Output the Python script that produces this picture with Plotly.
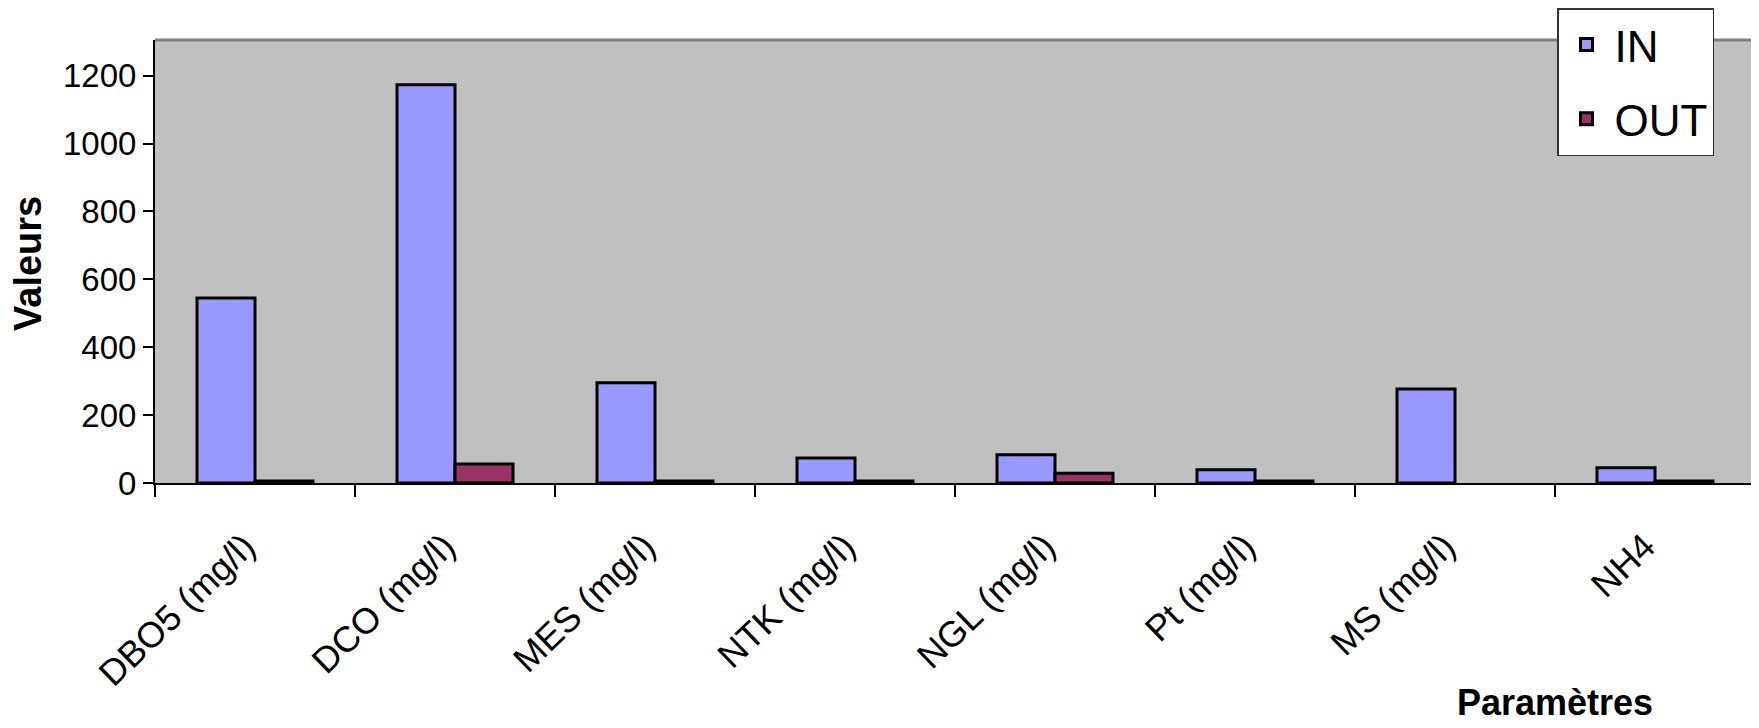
import plotly.graph_objects as go

categories = ["DBO5 (mg/l)", "DCO (mg/l)", "MES (mg/l)", "NTK (mg/l)",
              "NGL (mg/l)", "Pt (mg/l)", "MS (mg/l)", "NH4"]
in_values = [545, 1173, 295, 74, 83, 39, 277, 45]
out_values = [6, 56, 6, 6, 29, 6, None, 6]
y_ticks = [0, 200, 400, 600, 800, 1000, 1200]

FONT = "Liberation Sans, Arial, sans-serif"

W, H = 1759, 728
OFF = 8                      # page offset of the figure (body margin)
PX0, PY0 = 155, 40           # plot area top-left on the page
PW, PH = 1600, 443           # plot area size
L, T = PX0 - OFF, PY0 - OFF
R = W - L - PW
B = H - T - PH


def px(xp):
    return (xp - PX0) / PW


def py(yp):
    return (PY0 + PH - yp) / PH


fig = go.Figure()
fig.add_trace(go.Bar(name="IN", x=categories, y=in_values, legendgroup="in",
                     marker=dict(color="#9999FF", line=dict(color="#000000", width=3))))
fig.add_trace(go.Bar(name="OUT", x=categories, y=out_values, legendgroup="out",
                     marker=dict(color="#993366", line=dict(color="#000000", width=3))))

fig.update_layout(
    width=W, height=H,
    margin=dict(l=L, r=R, t=T, b=B, pad=0, autoexpand=False),
    paper_bgcolor="#FFFFFF",
    plot_bgcolor="#C0C0C0",
    barmode="group",
    bargap=0.42,
    bargroupgap=0,
    showlegend=True,
    legend=dict(
        x=px(1557), y=py(OFF),
        xanchor="left", yanchor="top",
        bgcolor="#FFFFFF", bordercolor="#333333", borderwidth=1.5,
        font=dict(family=FONT, size=44, color="#000000"),
        tracegroupgap=14,
        itemwidth=46,
    ),
    xaxis=dict(
        type="category",
        showline=True, linecolor="#000000", linewidth=2,
        ticks="outside", tickson="boundaries", ticklen=12,
        tickcolor="#000000", tickwidth=1.5,
        tickangle=-44,
        ticklabelstandoff=26,
        ticklabelshift=-10,
        tickfont=dict(family=FONT, size=36, color="#000000"),
        showgrid=False, zeroline=False,
    ),
    yaxis=dict(
        range=[0, 1305],
        tickvals=y_ticks,
        showline=True, linecolor="#000000", linewidth=2,
        ticks="outside", ticklen=10, tickcolor="#000000", tickwidth=1.5,
        tickfont=dict(family=FONT, size=33, color="#000000"),
        showgrid=False, zeroline=False,
    ),
    shapes=[
        dict(type="line", xref="paper", yref="paper", x0=0, x1=1, y0=1, y1=1,
             line=dict(color="#808080", width=3)),
        dict(type="line", xref="paper", yref="paper", x0=1, x1=1, y0=0, y1=1,
             line=dict(color="#808080", width=3)),
    ],
    annotations=[
        dict(text="<b>Valeurs</b>", xref="paper", yref="paper",
             x=px(28), y=py(264), textangle=-90,
             showarrow=False, xanchor="center", yanchor="middle",
             font=dict(family=FONT, size=38, color="#000000")),
        dict(text="<b>Paramètres</b>", xref="paper", yref="paper",
             x=px(1555), y=py(725),
             showarrow=False, xanchor="center", yanchor="bottom",
             font=dict(family=FONT, size=36, color="#000000")),
    ],
)

fig.write_html("out.html")
